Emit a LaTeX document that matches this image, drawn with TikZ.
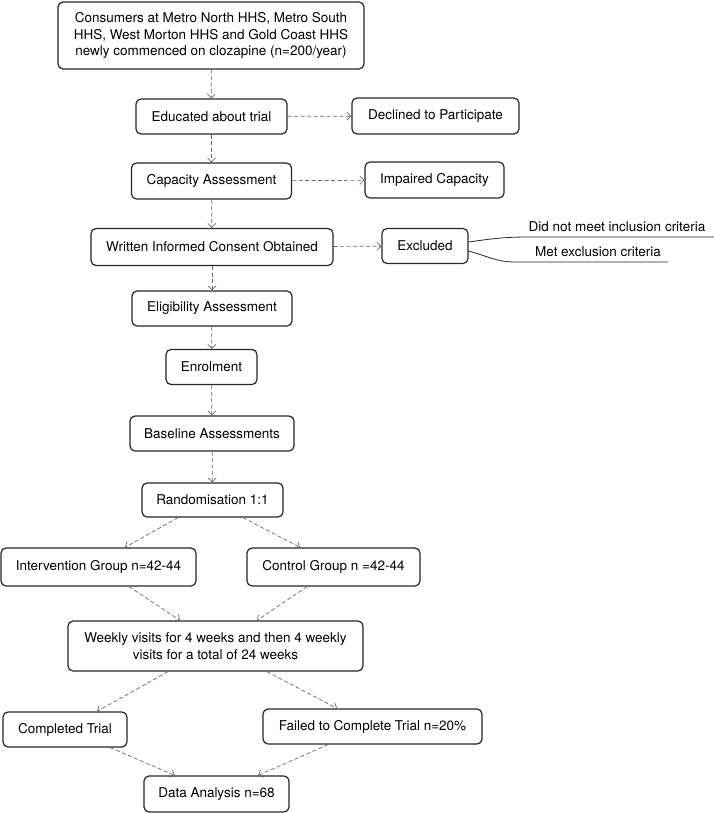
\documentclass[tikz,border=0pt]{standalone}
\usepackage{fontspec}
\setmainfont{TeX Gyre Heros}
\usetikzlibrary{arrows.meta,calc}

\begin{document}
\begin{tikzpicture}[x=1pt,y=-1pt,
  box/.style={draw=black!85,line width=1.2pt,rounded corners=5pt,align=center,inner sep=2pt,font=\fontsize{13.5}{16.5}\selectfont},
  flow/.style={draw=black!60,dash pattern=on 4pt off 2.5pt,line width=0.7pt,-{Straight Barb[length=4pt,width=8pt]}},
  branch/.style={draw=black!85,line width=0.8pt},
  lbl/.style={font=\fontsize{13.5}{16.5}\selectfont,inner sep=0pt,anchor=base}]
\useasboundingbox (0,0) rectangle (714,813);
\node[box,minimum width=306pt,minimum height=67pt] (cons) at (211,35.5) {Consumers at Metro North HHS, Metro South\\HHS, West Morton HHS and Gold Coast HHS\\newly commenced on clozapine (n=200/year)};
\node[box,minimum width=151pt,minimum height=35pt] (edu) at (211.5,116.5) {Educated about trial};
\node[box,minimum width=167pt,minimum height=36pt] (decl) at (435.5,116) {Declined to Participate};
\node[box,minimum width=160pt,minimum height=36pt] (cap) at (211.5,181) {Capacity Assessment};
\node[box,minimum width=139pt,minimum height=36pt] (imp) at (434.5,180) {Impaired Capacity};
\node[box,minimum width=242pt,minimum height=37pt] (consent) at (212,247) {Written Informed Consent Obtained};
\node[box,minimum width=86pt,minimum height=35pt] (excl) at (425,246) {Excluded};
\node[box,minimum width=160pt,minimum height=35pt] (elig) at (212,308.5) {Eligibility Assessment};
\node[box,minimum width=91pt,minimum height=35pt] (enrol) at (211.5,367) {Enrolment};
\node[box,minimum width=164pt,minimum height=35pt] (base) at (212,433.5) {Baseline Assessments};
\node[box,minimum width=141pt,minimum height=34pt] (rand) at (212.5,500) {Randomisation 1:1};
\node[box,minimum width=195pt,minimum height=38pt] (interv) at (98.5,567) {Intervention Group n=42-44};
\node[box,minimum width=173pt,minimum height=38pt] (ctrl) at (333.5,567) {Control Group n =42-44};
\node[box,minimum width=295pt,minimum height=50pt] (weekly) at (215.5,646) {Weekly visits for 4 weeks and then 4 weekly\\visits for a total of 24 weeks};
\node[box,minimum width=124pt,minimum height=35pt] (compl) at (65,729.5) {Completed Trial};
\node[box,minimum width=219pt,minimum height=35pt] (failed) at (372.5,726.5) {Failed to Complete Trial n=20\%};
\node[box,minimum width=145pt,minimum height=36pt] (data) at (216.5,794) {Data Analysis n=68};
\coordinate (incend) at (714,237);
\coordinate (excend) at (668,262);
\node[lbl] (inc) at (617,231) {Did not meet inclusion criteria};
\node[lbl] (exc) at (598,256) {Met exclusion criteria};
\draw[flow] (cons) -- (edu);
\draw[flow] (edu) -- (cap);
\draw[flow] (cap) -- (consent);
\draw[flow] (consent) -- (elig);
\draw[flow] (elig) -- (enrol);
\draw[flow] (enrol) -- (base);
\draw[flow] (base) -- (rand);
\draw[flow] (edu) -- (decl);
\draw[flow] (cap) -- (imp);
\draw[flow] (consent) -- (excl);
\draw[branch] ([yshift=4pt]excl.east) to[out=8,in=180] ($(incend)+(-186,0)$) -- (incend);
\draw[branch] ([yshift=-5pt]excl.east) to[out=-15,in=180] ($(excend)+(-153,0)$) -- (excend);
\draw[flow] ([xshift=-34.5pt]rand.south) -- ([xshift=26.5pt]interv.north);
\draw[flow] ([xshift=30.5pt]rand.south) -- ([xshift=-33.5pt]ctrl.north);
\draw[flow] ([xshift=30.5pt]interv.south) -- ([xshift=-35.5pt]weekly.north);
\draw[flow] ([xshift=-26.5pt]ctrl.south) -- ([xshift=41.5pt]weekly.north);
\draw[flow] ([xshift=-47.5pt]weekly.south) -- ([xshift=32pt]compl.north);
\draw[flow] ([xshift=51.5pt]weekly.south) -- ([xshift=-35.5pt]failed.north);
\draw[flow] ([xshift=45pt]compl.south) -- ([xshift=-41.5pt]data.north);
\draw[flow] ([xshift=-44.5pt]failed.south) -- ([xshift=41.5pt]data.north);
\end{tikzpicture}
\end{document}
